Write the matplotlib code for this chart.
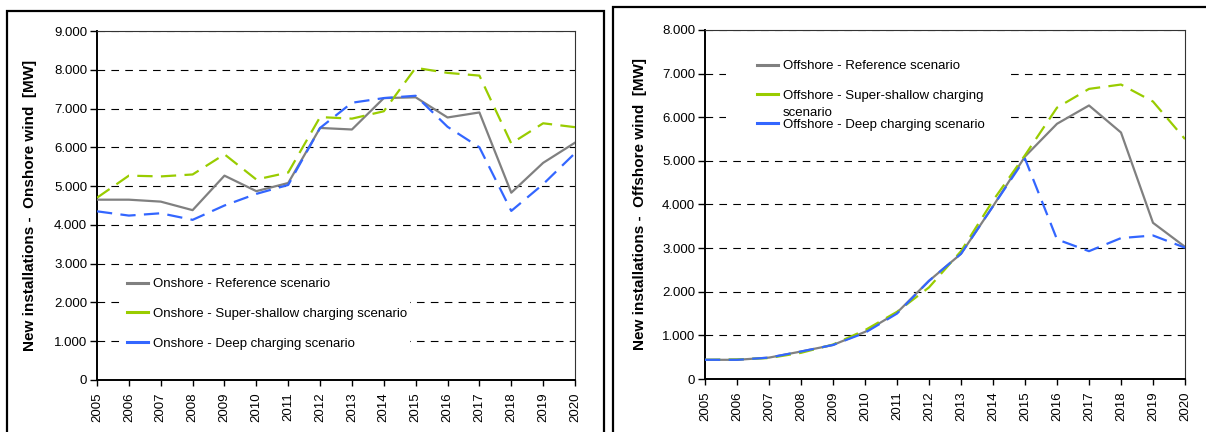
import matplotlib
matplotlib.use("Agg")
import matplotlib.pyplot as plt
from matplotlib.patches import Rectangle
from matplotlib.ticker import FuncFormatter

plt.rcParams['font.family'] = ['Liberation Sans', 'DejaVu Sans']
plt.rcParams['lines.scale_dashes'] = False

years = list(range(2005, 2021))

onshore_reference = [4650, 4650, 4600, 4380, 5270, 4870, 5080, 6500, 6460, 7270,
                     7290, 6770, 6900, 4830, 5600, 6120]
onshore_super_shallow = [4700, 5270, 5250, 5300, 5820, 5170, 5350, 6780, 6740, 6930,
                         8050, 7920, 7850, 6100, 6620, 6520]
onshore_deep = [4350, 4240, 4300, 4130, 4500, 4800, 5030, 6500, 7150, 7270,
                7330, 6530, 6000, 4360, 5050, 5850]

offshore_reference = [440, 440, 490, 630, 780, 1080, 1520, 2250, 2870, 3960,
                      5100, 5850, 6270, 5650, 3580, 3030]
offshore_super_shallow = [440, 450, 480, 600, 790, 1120, 1540, 2100, 2930, 4090,
                          5130, 6220, 6650, 6750, 6360, 5500]
offshore_deep = [440, 440, 490, 630, 780, 1060, 1500, 2250, 2870, 3960,
                 5050, 3200, 2930, 3230, 3290, 3010]

onshore_labels = ["Onshore - Reference scenario",
                  "Onshore - Super-shallow charging scenario",
                  "Onshore - Deep charging scenario"]
offshore_labels = ["Offshore - Reference scenario",
                   "Offshore - Super-shallow charging",
                   "Offshore - Deep charging scenario"]

onshore_ylabel = "New installations -  Onshore wind  [MW]"
offshore_ylabel = "New installations -  Offshore wind  [MW]"

C_REF = "#808080"
C_SS = "#99CC00"
C_DEEP = "#3366FF"
DASH = (0, (11, 6))
FS = 9.5

fig = plt.figure(figsize=(12.06, 4.32), dpi=100)

W, H = 1206, 432


def fx(px):
    return px / W


def fy(py):
    return 1 - py / H


# outer frames
fig.patches.append(Rectangle((fx(7), -0.2), fx(604) - fx(7), fy(11) + 0.2,
                             transform=fig.transFigure, fill=False,
                             edgecolor="black", linewidth=1.6, zorder=0))
fig.patches.append(Rectangle((fx(613), -0.2), 0.6, fy(7) + 0.2,
                             transform=fig.transFigure, fill=False,
                             edgecolor="black", linewidth=1.6, zorder=0))

fmt = FuncFormatter(lambda v, p: "0" if v == 0 else f"{int(v):,}".replace(",", "."))


def setup(ax, ymax, ylabel):
    ax.set_xlim(2005, 2020)
    ax.set_ylim(0, ymax)
    ax.set_xticks(years)
    ax.set_xticklabels([str(y) for y in years], rotation=90, fontsize=FS)
    ax.set_yticks(range(0, ymax + 1, 1000))
    ax.yaxis.set_major_formatter(fmt)
    ax.tick_params(axis='y', labelsize=FS, length=5, width=1, direction='out', pad=2)
    ax.tick_params(axis='x', length=4, width=1, direction='out', pad=5)
    ax.set_axisbelow(True)
    ax.yaxis.grid(True, color="black", linewidth=0.8, linestyle=(0, (5.5, 4.5)))
    for s in ['left', 'bottom']:
        ax.spines[s].set_linewidth(1.4)
        ax.spines[s].set_color("black")
    for s in ['top', 'right']:
        ax.spines[s].set_linewidth(0.8)
        ax.spines[s].set_color("#333333")
    ax.set_ylabel(ylabel, fontsize=11, fontweight='bold')


# Left panel
ax1 = fig.add_axes([fx(97), fy(380), fx(575) - fx(97), fy(31) - fy(380)])
setup(ax1, 9000, onshore_ylabel)
ax1.yaxis.set_label_coords((37 - 97) / 478, 0.5)
ax1.add_patch(Rectangle((2005.78, 400), 9.05, 2480, facecolor="white",
                        edgecolor="none", zorder=1))
l1, = ax1.plot(years, onshore_reference, color=C_REF, lw=1.6, zorder=3)
l2, = ax1.plot(years, onshore_super_shallow, color=C_SS, lw=1.6, ls=DASH, zorder=3)
l3, = ax1.plot(years, onshore_deep, color=C_DEEP, lw=1.6, ls=DASH, zorder=3)
leg1 = ax1.legend([l1, l2, l3], onshore_labels, loc='upper left',
                  bbox_to_anchor=((127 - 97) / 478, (380 - 278) / 349),
                  frameon=False, borderpad=0, borderaxespad=0, fontsize=FS,
                  handlelength=1.6, handletextpad=0.4, labelspacing=1.33)
for h in leg1.get_lines():
    h.set_linestyle('-')
    h.set_linewidth(2.2)

# Right panel
ax2 = fig.add_axes([fx(705), fy(379), fx(1185) - fx(705), fy(30) - fy(379)])
setup(ax2, 8000, offshore_ylabel)
ax2.yaxis.set_label_coords((647 - 705) / 480, 0.5)
ax2.add_patch(Rectangle((2005.66, 5500), 8.87, 2250, facecolor="white",
                        edgecolor="none", zorder=1))
m1, = ax2.plot(years, offshore_reference, color=C_REF, lw=1.6, zorder=3)
m2, = ax2.plot(years, offshore_super_shallow, color=C_SS, lw=1.6, ls=DASH, zorder=3)
m3, = ax2.plot(years, offshore_deep, color=C_DEEP, lw=1.6, ls=DASH, zorder=3)
leg2 = ax2.legend([m1, m2, m3], offshore_labels, loc='upper left',
                  bbox_to_anchor=((757 - 705) / 480, (379 - 60) / 349),
                  frameon=False, borderpad=0, borderaxespad=0, fontsize=FS,
                  handlelength=1.6, handletextpad=0.4, labelspacing=1.3)
for h in leg2.get_lines():
    h.set_linestyle('-')
    h.set_linewidth(2.2)
ax2.text((783 - 705) / 480, (379 - 113) / 349, "scenario", transform=ax2.transAxes,
         fontsize=FS, va='center', ha='left', zorder=5)

fig.savefig("out.png", dpi=100)
